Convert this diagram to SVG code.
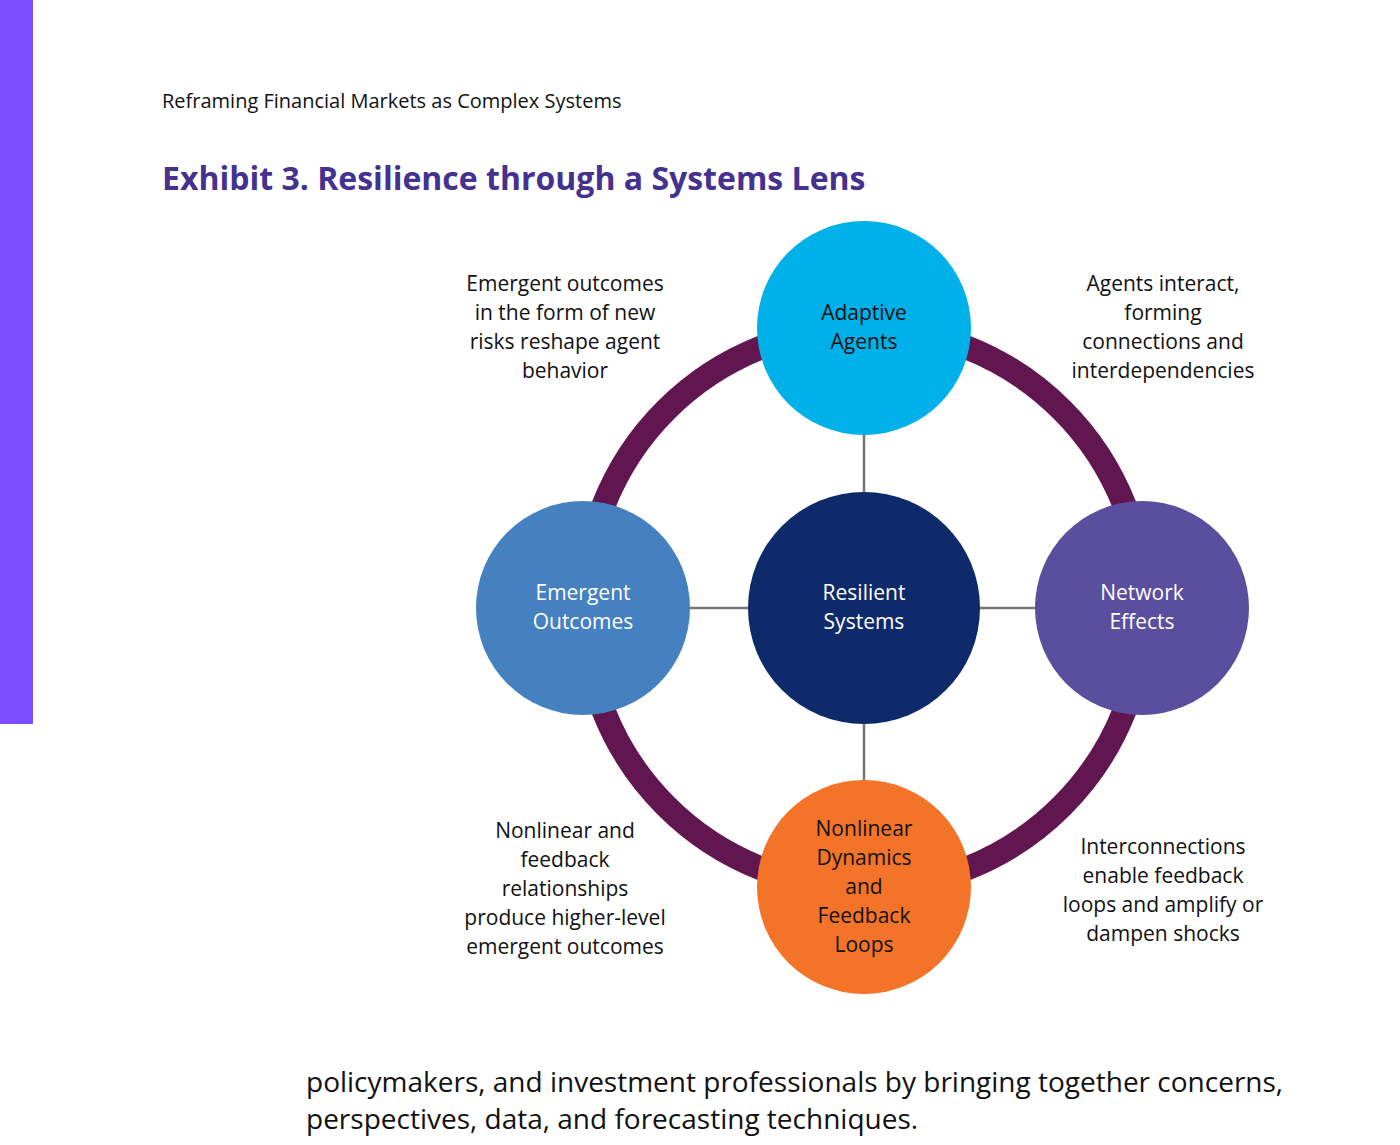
<svg xmlns="http://www.w3.org/2000/svg" width="1400" height="1145" viewBox="0 0 1400 1145">
<style>
text{font-family:"Open Sans","Liberation Sans",sans-serif;}
.lbl{font-size:21px;fill:#111;text-anchor:middle;}
.wl{font-size:21px;fill:#fff;text-anchor:middle;}
.bl{font-size:21px;fill:#111;text-anchor:middle;}
.conn{stroke:#777;stroke-width:2.5;}
</style>
<rect width="1400" height="1145" fill="#fff"/>
<rect x="0" y="0" width="33" height="724" fill="#7b4dff"/>
<text x="162" y="108" font-size="20" fill="#111">Reframing Financial Markets as Complex Systems</text>
<text x="162" y="190" font-size="32" font-weight="bold" fill="#45318f">Exhibit 3. Resilience through a Systems Lens</text>
<circle cx="864" cy="608" r="280" fill="none" stroke="#611650" stroke-width="24"/>
<g id="connectors">
<line class="conn" x1="864" y1="435" x2="864" y2="494"/>
<line class="conn" x1="690" y1="608" x2="749" y2="608"/>
<line class="conn" x1="979" y1="608" x2="1036" y2="608"/>
<line class="conn" x1="864" y1="723" x2="864" y2="781"/>
</g>
<g id="adaptive"><circle cx="864" cy="328" r="107" fill="#00b0e8"/><text class="bl" x="864" y="320">Adaptive</text><text class="bl" x="864" y="349">Agents</text></g>
<g id="emergent"><circle cx="583" cy="608" r="107" fill="#4580c0"/><text class="wl" x="583" y="600">Emergent</text><text class="wl" x="583" y="629">Outcomes</text></g>
<g id="resilient"><circle cx="864" cy="608" r="116" fill="#0f2a6b"/><text class="wl" x="864" y="600">Resilient</text><text class="wl" x="864" y="629">Systems</text></g>
<g id="network"><circle cx="1142" cy="608" r="107" fill="#5a4e9e"/><text class="wl" x="1142" y="600">Network</text><text class="wl" x="1142" y="629">Effects</text></g>
<g id="nonlinear"><circle cx="864" cy="887" r="107" fill="#f37328"/><text class="bl" x="864" y="836">Nonlinear</text><text class="bl" x="864" y="865">Dynamics</text><text class="bl" x="864" y="894">and</text><text class="bl" x="864" y="923">Feedback</text><text class="bl" x="864" y="952">Loops</text></g>
<g id="note-tl"><text class="lbl" x="565" y="291">Emergent outcomes</text><text class="lbl" x="565" y="320">in the form of new</text><text class="lbl" x="565" y="349">risks reshape agent</text><text class="lbl" x="565" y="378">behavior</text></g>
<g id="note-tr"><text class="lbl" x="1163" y="291">Agents interact,</text><text class="lbl" x="1163" y="320">forming</text><text class="lbl" x="1163" y="349">connections and</text><text class="lbl" x="1163" y="378">interdependencies</text></g>
<g id="note-bl"><text class="lbl" x="565" y="838">Nonlinear and</text><text class="lbl" x="565" y="867">feedback</text><text class="lbl" x="565" y="896">relationships</text><text class="lbl" x="565" y="925">produce higher-level</text><text class="lbl" x="565" y="954">emergent outcomes</text></g>
<g id="note-br"><text class="lbl" x="1163" y="854">Interconnections</text><text class="lbl" x="1163" y="883">enable feedback</text><text class="lbl" x="1163" y="912">loops and amplify or</text><text class="lbl" x="1163" y="941">dampen shocks</text></g>
<text x="306" y="1092" font-size="28" fill="#111">policymakers, and investment professionals by bringing together concerns,</text>
<text x="306" y="1129" font-size="28" fill="#111">perspectives, data, and forecasting techniques.</text>
</svg>
